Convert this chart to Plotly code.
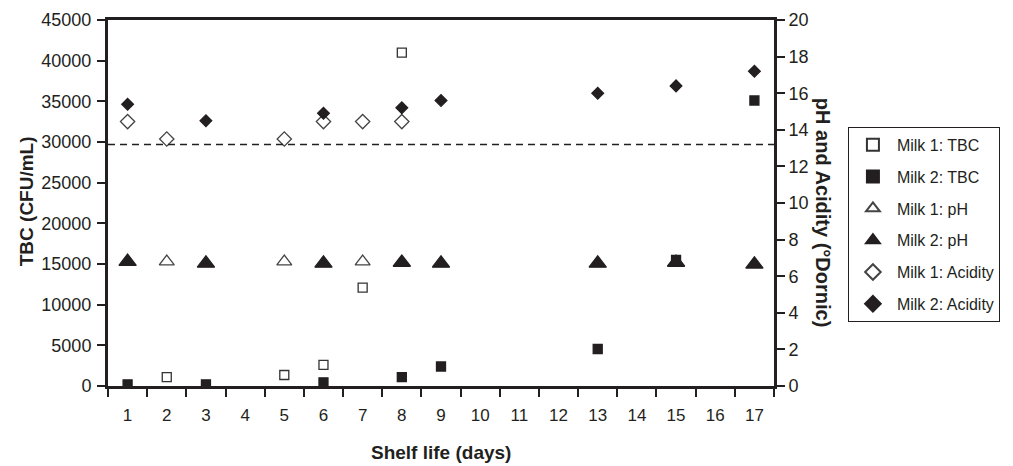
import plotly.graph_objects as go

days = [str(d) for d in range(1, 18)]

m1_tbc_x = ["2", "5", "6", "7", "8"]
m1_tbc_y = [1100, 1350, 2600, 12100, 41000]

m2_tbc_x = ["1", "3", "6", "8", "9", "13", "15", "17"]
m2_tbc_y = [200, 200, 450, 1100, 2400, 4550, 15500, 35100]

m1_ph_x = ["2", "5", "7"]
m1_ph_y = [6.8, 6.8, 6.8]

m2_ph_x = ["1", "3", "6", "8", "9", "13", "15", "17"]
m2_ph_y = [6.8, 6.7, 6.7, 6.75, 6.7, 6.7, 6.75, 6.65]

m1_ac_x = ["1", "2", "5", "6", "7", "8"]
m1_ac_y = [14.45, 13.5, 13.5, 14.45, 14.45, 14.45]

m2_ac_x = ["1", "3", "6", "8", "9", "13", "15", "17"]
m2_ac_y = [15.4, 14.5, 14.9, 15.2, 15.6, 16.0, 16.4, 17.2]

dashed_level = 29700

y1_ticks = list(range(0, 45001, 5000))
y2_ticks = list(range(0, 21, 2))

FONT = "Liberation Sans, Arial, sans-serif"
INK = "#231f20"

fig = go.Figure()

def add(name, x, y, symbol, size, color, line_color, yaxis, group):
    fig.add_trace(go.Scatter(
        x=x, y=y, name=name, mode="markers", yaxis=yaxis, legendgroup=group,
        marker=dict(symbol=symbol, size=size, color=color,
                    line=dict(color=line_color, width=1.3)),
    ))

add("Milk 1: TBC", m1_tbc_x, m1_tbc_y, "square-open", 9, "#333333", "#333333", "y", "a")
add("Milk 2: TBC", m2_tbc_x, m2_tbc_y, "square", 9, INK, INK, "y", "b")
add("Milk 1: pH", m1_ph_x, m1_ph_y, "triangle-up-open", 13, "#444444", "#444444", "y2", "c")
add("Milk 2: pH", m2_ph_x, m2_ph_y, "triangle-up", 15, INK, INK, "y2", "d")
add("Milk 1: Acidity", m1_ac_x, m1_ac_y, "diamond-open", 11, "#444444", "#444444", "y2", "e")
add("Milk 2: Acidity", m2_ac_x, m2_ac_y, "diamond", 9, INK, INK, "y2", "f")

fig.add_shape(type="line", xref="paper", yref="y", x0=0, x1=1,
              y0=dashed_level, y1=dashed_level,
              line=dict(color=INK, width=1.5, dash="7px,5px"))

axis_common = dict(
    ticks="outside", ticklen=8, tickwidth=1.5, tickcolor=INK,
    showline=True, linewidth=3, linecolor=INK,
    showgrid=False, zeroline=False, automargin=False,
)

# body has an 8px default margin in the page, so the figure is offset by 8px
fig.update_layout(
    width=1005, height=458,
    margin=dict(l=100, r=239, t=12, b=80, autoexpand=False),
    paper_bgcolor="white", plot_bgcolor="white",
    font=dict(family=FONT, color=INK, size=16),
    xaxis=dict(
        type="category", categoryorder="array", categoryarray=days,
        range=[-0.5, 16.5], tickson="boundaries", mirror=True,
        ticklabelstandoff=12,
        tickfont=dict(size=17, color=INK), **axis_common,
    ),
    yaxis=dict(
        range=[0, 45000], tickvals=y1_ticks, tickformat="d",
        ticklabelstandoff=2,
        tickfont=dict(size=18, color=INK), **axis_common,
    ),
    yaxis2=dict(
        range=[0, 20], tickvals=y2_ticks, overlaying="y", side="right",
        tickfont=dict(size=18, color=INK), **axis_common,
    ),
    legend=dict(
        x=1.111, y=0.708, xanchor="left", yanchor="top",
        bordercolor=INK, borderwidth=1, bgcolor="white",
        font=dict(size=16, color=INK), tracegroupgap=8,
        itemsizing="constant", itemwidth=38,
    ),
    showlegend=True,
)

fig.add_annotation(text="<b>TBC (CFU/mL)</b>", xref="paper", yref="paper",
                   x=-0.123, y=0.505, textangle=-90, showarrow=False,
                   font=dict(size=19, color=INK), xanchor="center", yanchor="middle")
fig.add_annotation(text="<b>pH and Acidity (\u00b0Dornic)</b>", xref="paper", yref="paper",
                   x=1.074, y=0.475, textangle=90, showarrow=False,
                   font=dict(size=20, color=INK), xanchor="center", yanchor="middle")
fig.add_annotation(text="<b>Shelf life (days)</b>", xref="paper", yref="paper",
                   x=0.5, y=-0.183, showarrow=False,
                   font=dict(size=19, color=INK), xanchor="center", yanchor="middle")

fig.write_html("out.html")
